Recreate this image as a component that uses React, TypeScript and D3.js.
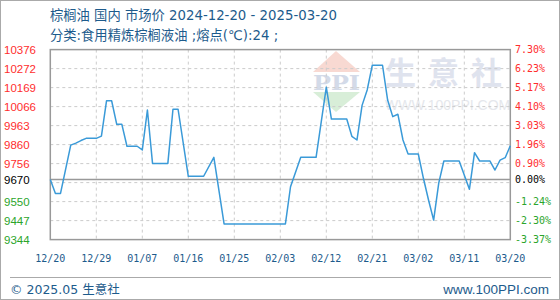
import React from "react";
import * as d3 from "d3";

// Palm oil domestic market price, daily (yuan/ton)
const dates: string[] = [
  "2024-12-20", "2024-12-21", "2024-12-22", "2024-12-24", "2024-12-25", "2024-12-26",
  "2024-12-27", "2024-12-29", "2024-12-30", "2024-12-31", "2025-01-01", "2025-01-02",
  "2025-01-03", "2025-01-04", "2025-01-06", "2025-01-07", "2025-01-08", "2025-01-09",
  "2025-01-12", "2025-01-13", "2025-01-14", "2025-01-16", "2025-01-19", "2025-01-21",
  "2025-01-23", "2025-02-04", "2025-02-05", "2025-02-07", "2025-02-10", "2025-02-12",
  "2025-02-13", "2025-02-16", "2025-02-17", "2025-02-18", "2025-02-19", "2025-02-20",
  "2025-02-21", "2025-02-23", "2025-02-24", "2025-02-25", "2025-02-26", "2025-02-27",
  "2025-02-28", "2025-03-02", "2025-03-03", "2025-03-04", "2025-03-05", "2025-03-06",
  "2025-03-07", "2025-03-10", "2025-03-12", "2025-03-13", "2025-03-14", "2025-03-16",
  "2025-03-17", "2025-03-18", "2025-03-19", "2025-03-20",
];
const prices: number[] = [
  9670, 9595, 9595, 9857, 9868, 9882,
  9894, 9894, 9906, 10098, 10098, 9970,
  9970, 9851, 9851, 9831, 10048, 9758,
  9758, 10052, 10052, 9688, 9688, 9791,
  9429, 9429, 9631, 9791, 9791, 10172,
  9999, 9999, 9905, 9885, 10073, 10157,
  10291, 10291, 10102, 10012, 10025, 9885,
  9809, 9809, 9677, 9559, 9450, 9651,
  9771, 9771, 9617, 9816, 9771, 9771,
  9722, 9776, 9789, 9854,
];

const basePrice = 9670;
const yLabels: number[] = [10376, 10272, 10169, 10066, 9963, 9860, 9756, 9670, 9550, 9447, 9344];
const pctLabels: string[] = ["7.30%", "6.23%", "5.17%", "4.10%", "3.03%", "1.96%", "0.90%", "0.00%", "-1.24%", "-2.30%", "-3.37%"];
const xTickLabels: string[] = ["12/20", "12/29", "01/07", "01/16", "01/25", "02/03", "02/12", "02/21", "03/02", "03/11", "03/20"];

const W = 560;
const H = 300;
const left = 50.3;
const right = 510.3;
const top = 49.6;
const bottom = 239.6;

const BLUE = "#1d5b8c";
const RED = "#ff2d2d";
const GREEN = "#2ba52b";
const AXIS = "#999999";
const TITLE_FONT = "'DejaVu Sans', 'Noto Sans CJK SC', sans-serif";

export default function App() {
  const parse = d3.timeParse("%Y-%m-%d");
  const start = parse("2024-12-20") as Date;
  const end = parse("2025-03-20") as Date;

  const x = d3.scaleTime().domain([start, end]).range([left, right]);
  const y = d3.scaleLinear().domain([9344, 10376]).range([bottom, top]);

  const points: [Date, number][] = dates.map((d, i) => [parse(d) as Date, prices[i]]);
  const line = d3
    .line<[Date, number]>()
    .x((d) => x(d[0]))
    .y((d) => y(d[1]));

  const xTicks = d3.timeDay.range(start, d3.timeDay.offset(end, 1), 9);
  const gridYs = d3.range(1, 10).map((i) => top + ((bottom - top) * i) / 10);

  const labelColor = (v: number) => (v > basePrice ? RED : v < basePrice ? GREEN : "#000");

  return (
    <svg
      width={W}
      height={H}
      style={{ position: "fixed", left: 0, top: 0, background: "#fff" }}
      fontFamily="'Liberation Sans', Arial, sans-serif"
    >
      {/* outer frame */}
      <rect x={0.5} y={0.5} width={W - 1} height={H - 1} fill="none" stroke="#aaa" strokeWidth={1} />

      {/* title */}
      <text x={50} y={20} fontSize={13.3} fill={BLUE} fontFamily={TITLE_FONT}>
        棕榈油 国内 市场价 2024-12-20 - 2025-03-20
      </text>
      <text x={50} y={40} fontSize={13.3} fill={BLUE} fontFamily={TITLE_FONT}>
        分类:食用精炼棕榈液油 ;熔点(℃):24 ;
      </text>

      {/* watermark */}
      <g>
        <polygon points="313,72 336,51 360,72" fill="#f8d9d2" />
        <polygon points="313,92 360,92 336,112" fill="#d8eed8" />
        <text x={313} y={90} fontSize={21} fontWeight="bold" fill="#d3dae8" fontFamily="'DejaVu Serif', serif" textLength={47} lengthAdjust="spacingAndGlyphs">
          PPI
        </text>
        <text x={385} y={84} fontSize={31} fontWeight="bold" fill="#dfe3ee" fontFamily="'Noto Sans CJK SC', sans-serif" letterSpacing={12}>
          生意社
        </text>
        <text x={385} y={110} fontSize={14} fill="#e5e7ec" fontFamily="'Liberation Sans', Arial, sans-serif">
          WWW.100PPI.COM
        </text>
      </g>

      {/* horizontal grid */}
      {gridYs.map((gy, i) => (
        <line key={"gy" + i} x1={left} x2={right} y1={gy} y2={gy} stroke="#cccccc" strokeDasharray="3,3" />
      ))}
      {/* vertical grid */}
      {xTicks.slice(1, -1).map((d, i) => (
        <line key={"gx" + i} x1={x(d)} x2={x(d)} y1={top} y2={bottom} stroke="#cccccc" strokeDasharray="3,3" />
      ))}

      {/* base line */}
      <line x1={left} x2={right} y1={y(basePrice)} y2={y(basePrice)} stroke={AXIS} strokeWidth={1.5} />

      {/* plot frame */}
      <rect x={left} y={top} width={right - left} height={bottom - top} fill="none" stroke={AXIS} strokeWidth={1.5} />

      {/* price line */}
      <path d={line(points) || ""} fill="none" stroke="#3a9ad8" strokeWidth={1.5} strokeLinejoin="round" />

      {/* left axis labels */}
      {yLabels.map((v) => (
        <text key={"yl" + v} x={4} y={y(v)} dy="0.35em" fontSize={11.5} fill={labelColor(v)}>
          {v}
        </text>
      ))}
      {/* right axis labels */}
      {yLabels.map((v, i) => (
        <text
          key={"yr" + v}
          x={515}
          y={y(v)}
          dy="0.35em"
          fontSize={10}
          fill={labelColor(v)}
          fontFamily="'DejaVu Sans Mono', monospace"
        >
          {pctLabels[i]}
        </text>
      ))}

      {/* x axis labels */}
      {xTicks.map((d, i) => (
        <text
          key={"xl" + i}
          x={x(d)}
          y={258}
          dy="0.35em"
          textAnchor="middle"
          fontSize={10}
          fill={BLUE}
          fontFamily="'DejaVu Sans Mono', monospace"
        >
          {xTickLabels[i]}
        </text>
      ))}

      {/* footer */}
      <line x1={10} x2={551} y1={277.5} y2={277.5} stroke="#aaa" strokeWidth={1} />
      <text x={10} y={294} fontSize={12.5} fill={BLUE} fontFamily={TITLE_FONT}>
        © 2025.05 生意社
      </text>
      <text x={549} y={294} textAnchor="end" fontSize={13.5} fill={BLUE} fontFamily="'Liberation Sans', Arial, sans-serif">
        www.100PPI.com
      </text>
    </svg>
  );
}
